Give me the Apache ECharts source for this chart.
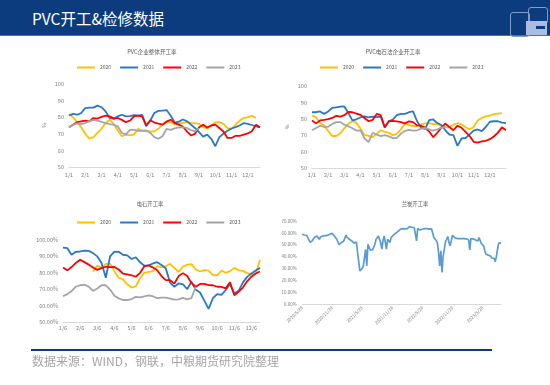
<!DOCTYPE html>
<html>
<head>
<meta charset="utf-8">
<title>PVC开工&amp;检修数据</title>
<script src="https://cdn.jsdelivr.net/npm/echarts@6/dist/echarts.min.js"></script>
<style>
  body {
    margin: 0;
    width: 550px;
    height: 385px;
    position: relative;
    overflow: hidden;
    background: #fff;
    font-family: "Noto Sans CJK SC", "Noto Sans", sans-serif;
  }
  #main { position: absolute; left: 0; top: 0; width: 550px; height: 385px; }
  .head {
    position: absolute; left: 0; top: 0; width: 550px; height: 35px;
    background: #0c3c7d; border-bottom: 1px solid #4a6fa5;
  }
  .head h1 {
    position: absolute; left: 32px; top: 8px; margin: 0;
    font-size: 15.5px; line-height: 20px; font-weight: normal; color: #fff;
  }
  .logo-a, .logo-b { position: absolute; border: 1px solid #7f9ccc; border-radius: 3px; }
  .logo-a { left: 510px; top: 12px; width: 18px; height: 23px; }
  .logo-b { left: 528px; top: 7px; width: 18px; height: 15px; }
  .logo-c { position: absolute; left: 526px; top: 21px; width: 21px; height: 14px; background: #a8bde0; }
  .logo-d { position: absolute; left: 536px; top: 26px; width: 9px; height: 3px; background: #0c3c7d; }
  .foot-line { position: absolute; left: 31px; top: 349px; width: 461px; height: 2px; background: #0c3c7d; }
  .source { position: absolute; left: 32px; top: 353px; font-size: 12px; line-height: 16px; color: #a6a6a6; }
</style>
</head>
<body>
<div id="main"></div>
<div class="head">
  <h1>PVC开工&amp;检修数据</h1>
  <div class="logo-a"></div>
  <div class="logo-b"></div>
  <div class="logo-c"></div>
  <div class="logo-d"></div>
</div>
<div class="foot-line"></div>
<div class="source">数据来源：WIND，钢联，中粮期货研究院整理</div>

<script>
// 年份与颜色
const years = ['2020', '2021', '2022', '2023'];
const colors = ['#ffc000', '#2a78c6', '#ff0000', '#a5a5a5'];

// PVC企业整体开工率 (%)
const total2020 = [82, 80, 77, 74, 70, 67, 68, 70.5, 73, 76.5, 78.5, 76, 72, 68.5, 69.5, 69, 69.5, 73, 72, 71.8,
  71.4, 71.4, 73, 75.5, 77.5, 76.8, 75.8, 76.2, 76.6, 77, 76.6, 76.4, 76, 74, 73.2, 75, 76.8, 77, 76, 73.4,
  73, 75.5, 78, 79.5, 80, 80.8, 79.5];
const total2021 = [81, 82, 81.5, 82.5, 85.5, 85.8, 85.8, 87, 86, 83.5, 79.5, 79, 80.5, 81.5, 80.5, 80.6, 81.3, 81, 81.4, 74.5,
  78, 82.5, 83.8, 84, 84.3, 81, 76.8, 77.3, 78.6, 77.6, 75.5, 73.5, 71, 68.3, 69.5, 67, 62.5, 68, 70, 71.8,
  73.2, 74, 75, 76.5, 76, 75.3, 74.5, 73.8];
const total2022 = [74, 75.5, 77, 77.5, 78, 77.5, 79.5, 79.2, 80.2, 81, 80.5, 79.3, 79.5, 78.4, 77, 78, 80.5, 81, 80.5, 75,
  78.2, 76.8, 76.1, 75.5, 77.3, 78.5, 76.4, 75.5, 74.4, 71.5, 69, 70, 74, 75.5, 73.8, 75, 75.5, 73.5, 71.4, 67.5,
  67.5, 68.8, 68.8, 69.5, 70.2, 71.5, 75.5, 74];
const total2023 = [74, 75.3, 76.3, 75.8, 76.5, 77.5, 78.4, 78, 77.2, 76.5, 75.8, 75.4, 74.5, 70.5, 69.6, 72.4, 72.4, 71.8, 71.8, 72,
  70.5, 68, 67, 68.5, 73, 72.4, 73.3, 73.8, 74, 73.5, 72.2, 71.5, 73.4];

// PVC电石法企业开工率 (%)
const calc2020 = [82, 81, 77.4, 76, 72.5, 69.5, 69.5, 71.2, 74.2, 77, 78.7, 77.5, 74, 70.2, 69.6, 68.8, 70.8, 73, 72, 71.4,
  70, 70.8, 73.6, 77, 76.2, 75.6, 75.6, 76.6, 77.2, 77.3, 76.8, 76.8, 75.6, 74.8, 74.8, 76.4, 77.3, 76.6, 74.8, 73.6,
  75, 79, 80.5, 81.5, 82, 82.8, 83.2, 83.5];
const calc2021 = [84, 84, 84.5, 83, 84.5, 86.6, 87, 87.4, 87.5, 83.5, 79, 79.7, 80.8, 81.5, 80.9, 81.3, 81, 81.4, 74.5, 78.5,
  79.5, 82.3, 83, 83, 84, 84.5, 78.5, 74.5, 73.8, 79.2, 79.6, 77.4, 76.2, 73, 70.4, 70, 63.5, 68, 68.3, 70.5,
  72.8, 73.5, 72.5, 75, 78.2, 78.5, 78.5, 77.7, 77.4];
const calc2022 = [79, 77.2, 79, 79.3, 79.8, 80.5, 81.8, 81.3, 82.2, 84.2, 84, 83.2, 82.4, 80.5, 78.5, 79.3, 83, 82.2, 75, 78.5,
  78.7, 78.4, 78, 77.2, 78.5, 78, 76, 75.8, 74.6, 72.2, 68.8, 71.5, 74.6, 77, 75, 73, 75.8, 74.5, 72, 69.5,
  66, 65.5, 66.2, 66.6, 67.6, 69.2, 71.6, 74.8, 73];
const calc2023 = [73, 74.4, 75.8, 75, 75.2, 76.8, 78, 78, 76.4, 75.5, 74.2, 72.8, 73, 68, 65.8, 71.5, 70.4, 69.4, 70, 69.3,
  68.2, 68.3, 71, 72.6, 73.2, 72.8, 73, 74, 74.5, 73.6, 72.8, 73.6, 74.6, 75];

// 电石开工率 (%)
const carb2020 = [null, null, null, null, null, null, null, 80.6, 84.5, 83, 85.5, 85.5, 81, 77, 76, 73, 71, 71.8, 76.7, 80,
  80.6, 81, 84, 83.3, 84, 85.5, 83, 80.6, 83.7, 85, 85.3, 82, 80.8, 81.6, 81.3, 78.6, 78.5, 81.4, 80, 81,
  83, 81.5, 81.2, 79.8, 79.2, 79.4, 88];
const carb2021 = [95.4, 95, 91, 92.8, 93, 93.5, 93.4, 92, 90, 86, 77, 90, 92.9, 92.8, 91, 90.6, 88.4, 89.5, 86.4, 84.3,
  84.5, 85.7, 86.5, 84.8, 82.7, 74, 71.5, 73.5, 73, 70, 74.5, 69.6, 68, 63, 58, 64.5, 67, 66.5, 69.5, 73,
  67.5, 69, 74, 77.5, 79.6, 81.4, 83];
const carb2022 = [83.3, 81.5, 83.5, 86, 88, 86.5, 85, 83.2, 81.8, 82.8, 83.7, 83.4, 83.6, 82, 79.5, 79, 78.5, 77.6, 80, 84,
  84.5, 83.2, 81.6, 78, 75.5, 75.5, 73.5, 78, 79.8, 78, 73.8, 71.5, 73.2, 73.2, 72.5, 72.4, 71.5, 71.4, 70.5, 74.2,
  66.3, 68.4, 71, 74.8, 77.6, 79.6, 80.8];
const carb2023 = [65.7, 67, 68.8, 71.5, 72.4, 72.8, 71.6, 69, 70.4, 72.4, 72.4, 69.8, 66, 64.4, 63.4, 63.4, 64, 65.3, 65, 65.6,
  66.2, 65.7, 64.5, 64.9, 64.9, 64.3, 63.6, 63.8, 64.7, 63.8, 64.6, 71.5];

// 兰炭开工率 (%)，周度
const lantan = [58.8, 58.5, 58.2, 58, 58, 56, 54, 52, 52.5, 53.5,
  55, 56.5, 57, 57.4, 57, 54.6, 56.5, 57.2, 57.4, 57.4,
  57.6, 57.6, 57.8, 58.2, 58.8, 59.3, 59.7, 58.5, 57.4, 56,
  54.6, 52.5, 50, 51, 51.8, 52.5, 53, 53.2, 58, 56.2,
  55.5, 54.6, 54, 53.2, 52.5, 51.3, 52, 52.4, 44, 36,
  28, 29, 30, 32.2, 33.6, 46, 32.2, 50.4, 49, 45.5,
  45, 45.7, 48, 50.4, 54.5, 56, 57.4, 58, 52, 46.2,
  53.2, 57.4, 52, 46.2, 54.6, 53, 51.8, 56, 57.5, 58,
  59, 59.7, 60.2, 61.2, 62, 63, 63.3, 63.6, 63.6, 63.3,
  63.2, 63.6, 64.4, 65.3, 65, 64.7, 64.6, 64.4, 64.4, 53.2,
  63.6, 63.3, 62.5, 63, 63, 63.6, 63.6, 63.6, 63.6, 63.4,
  63.2, 63, 63.3, 63.6, 56, 54.6, 53.5, 51.8, 43.4, 32.2,
  44.8, 26.6, 40.6, 46, 52.5, 54.6, 56.9, 52, 49, 53.2,
  58, 57.5, 56, 55.5, 55.2, 55.2, 55.2, 55.2, 55.2, 55.2,
  55.2, 55, 55, 54.6, 54, 45.7, 55.2, 55.2, 55, 54.6,
  54, 53.2, 53.2, 56, 57.4, 51, 50.4, 49, 45, 42,
  41.5, 41.2, 42, 40.5, 38.8, 37.8, 38.5, 35.6, 40, 46.2,
  51.3, 50.5, 51.3];
const lantanTicks = ['2020/5/28', '2020/11/28', '2021/5/28', '2021/11/28', '2022/5/28', '2022/11/28', '2023/5/28'];

// 横轴类目：每月4个点
function monthWeeks(days) {
  const out = [];
  for (let m = 1; m <= 12; m++) days.forEach(d => out.push(m + '/' + d));
  return out;
}
const cats1 = monthWeeks([1, 8, 15, 22]);
const cats2 = cats1.concat(['12/29']);
const cats3 = monthWeeks([6, 13, 20, 27]).slice(0, 47);
const cats4 = lantan.map((v, i) => i);

const font = 'Noto Sans CJK SC';
const labelColor = '#7f7f7f';

function titleAt(text, x, y, size) {
  return {
    text, left: x, top: y, textAlign: 'center', padding: 0,
    textStyle: { fontSize: size, fontWeight: 'normal', color: '#595959', fontFamily: font }
  };
}

function legendAt(x, y) {
  return {
    left: x, top: y, padding: 0, itemGap: 9, itemWidth: 18, itemHeight: 2, icon: 'rect',
    data: years,
    textStyle: { fontSize: 5, color: '#595959', fontFamily: font }
  };
}

function gridAt(left, top, width, height) {
  return { left, top, width, height, outerBoundsMode: 'none' };
}

function catAxis(i, data, interval, margin, extra) {
  return {
    type: 'category', gridIndex: i, data, boundaryGap: false,
    axisLine: { lineStyle: { color: '#d9d9d9' } },
    axisTick: { show: false },
    axisLabel: Object.assign({ interval, margin, fontSize: 5.5, color: labelColor, fontFamily: font }, extra || {})
  };
}

function valAxis(i, min, max, size, fmt, name) {
  return {
    type: 'value', gridIndex: i, min, max, interval: 10,
    name: name || '', nameLocation: 'middle', nameGap: 22, nameRotate: 90,
    nameTextStyle: { fontSize: 5, color: labelColor, fontFamily: font },
    axisLine: { show: false }, axisTick: { show: false }, splitLine: { show: false },
    axisLabel: { margin: 5, fontSize: size, color: labelColor, fontFamily: font, formatter: fmt }
  };
}

function yearLines(i, sets) {
  return sets.map((d, k) => ({
    name: years[k], type: 'line', xAxisIndex: i, yAxisIndex: i, data: d,
    symbol: 'none', lineStyle: { width: 1.8, color: colors[k] }, itemStyle: { color: colors[k] }
  }));
}

const monthStart = i => i % 4 === 0 && i < 48;
const pct = v => v.toFixed(2) + '%';

const chart = echarts.init(document.getElementById('main'));
chart.setOption({
  animation: false,
  title: [
    titleAt('PVC企业整体开工率', 152, 49, 5.6),
    titleAt('PVC电石法企业开工率', 393, 49, 5.6),
    titleAt('电石开工率', 150, 201, 5.3),
    titleAt('兰炭开工率', 415, 201, 5.3)
  ],
  legend: [legendAt(77, 65), legendAt(320, 65), legendAt(77, 220)],
  grid: [
    gridAt(69, 84, 191, 83),
    gridAt(312, 86, 194, 82),
    gridAt(63, 240, 197, 82),
    gridAt(302, 221, 199, 83)
  ],
  xAxis: [
    catAxis(0, cats1, monthStart, 5),
    catAxis(1, cats2, monthStart, 4),
    catAxis(2, cats3, monthStart, 3),
    catAxis(3, cats4, 25, 3, {
      rotate: 45, fontSize: 4.5,
      formatter: (v, i) => lantanTicks[Math.round(i / 26)] || ''
    })
  ],
  yAxis: [
    valAxis(0, 50, 100, 5.6, null, '%'),
    valAxis(1, 50, 100, 5.6, null, '%'),
    valAxis(2, 50, 100, 5.5, pct),
    valAxis(3, 0, 70, 4.5, pct)
  ],
  series: [].concat(
    yearLines(0, [total2020, total2021, total2022, total2023]),
    yearLines(1, [calc2020, calc2021, calc2022, calc2023]),
    yearLines(2, [carb2020, carb2021, carb2022, carb2023]),
    [{
      name: '兰炭开工率', type: 'line', xAxisIndex: 3, yAxisIndex: 3, data: lantan,
      symbol: 'none', lineStyle: { width: 1.7, color: '#5b9bd5' }, itemStyle: { color: '#5b9bd5' }
    }]
  )
});
</script>
</body>
</html>
